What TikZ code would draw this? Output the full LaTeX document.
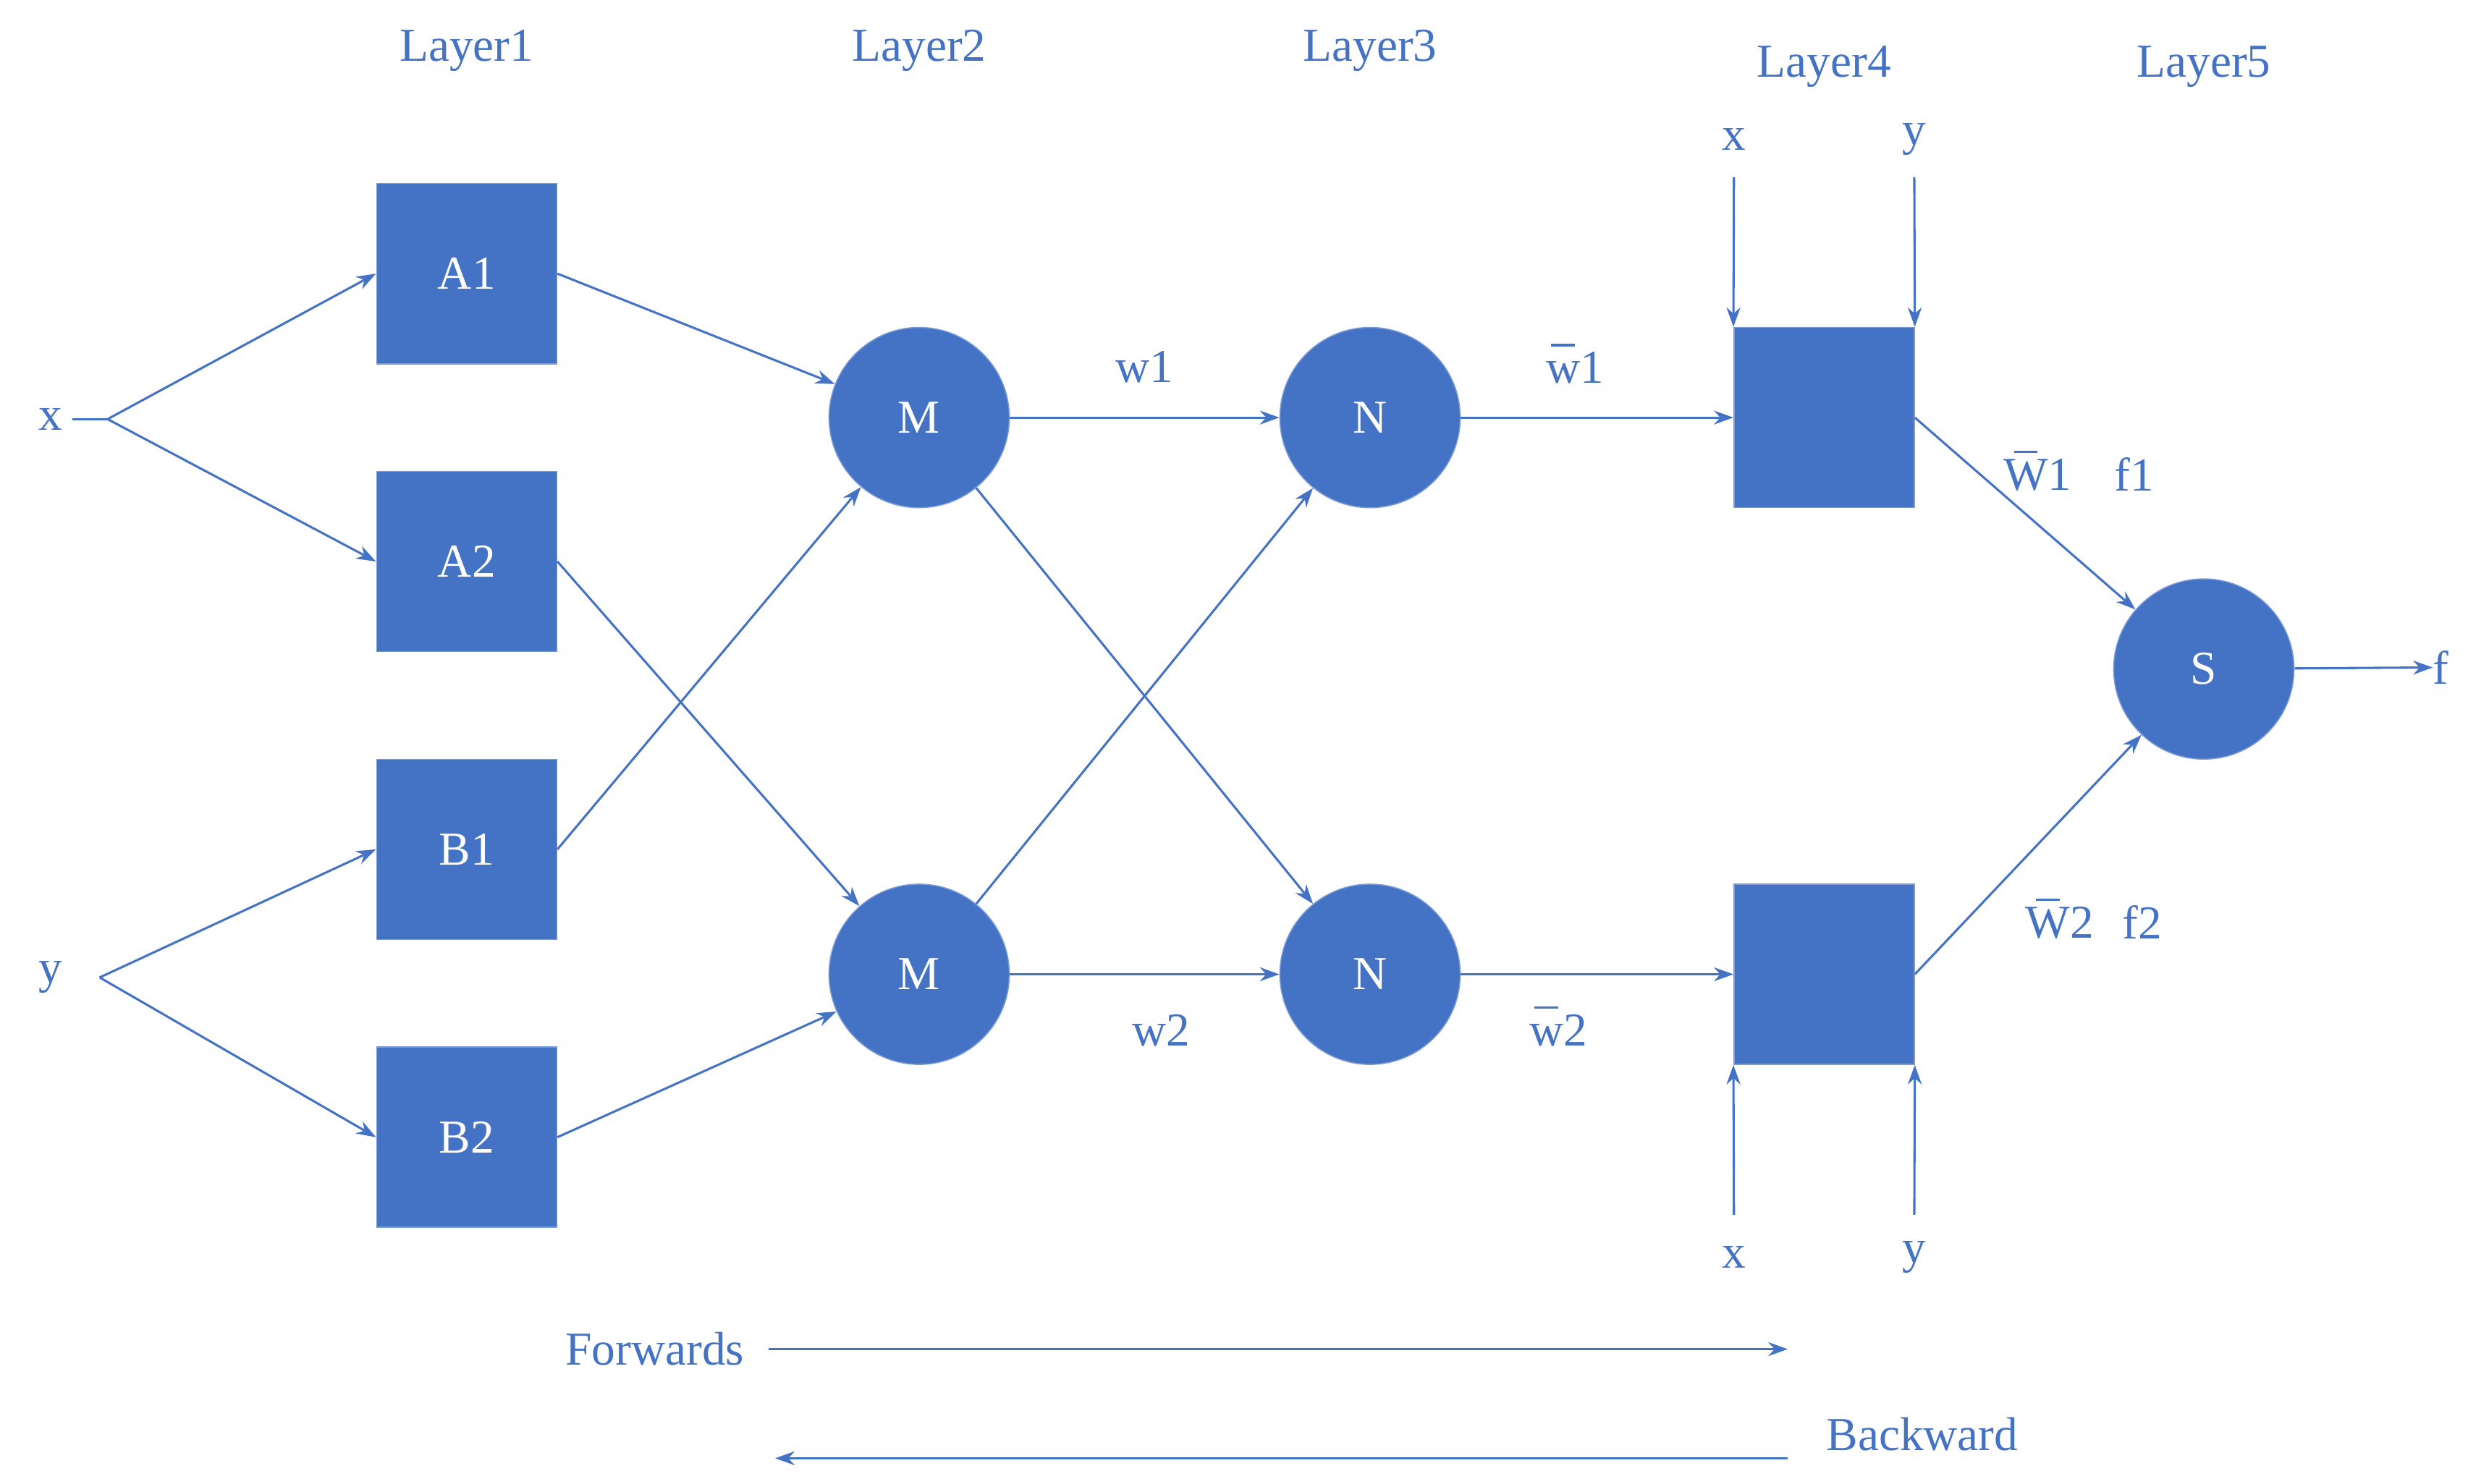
\documentclass[tikz,border=0pt]{standalone}
\usepackage{fontspec}
\setmainfont{Liberation Serif}
\usetikzlibrary{arrows.meta}
\definecolor{bl}{HTML}{4472C4}
\newcommand{\ob}[1]{\ooalign{#1\cr\hidewidth\raisebox{0.78em}{\rule{0.5em}{0.05em}}\hidewidth\cr}}
\begin{document}
\begin{tikzpicture}[x=0.02cm,y=-0.02cm,
 txt/.style={text=bl,font=\fontsize{17}{20}\selectfont,inner sep=0pt},
 sq/.style={fill=bl,draw=bl!70!white,minimum size=2.28cm,inner sep=0pt,text=white,font=\fontsize{17}{20}\selectfont},
 ci/.style={circle,fill=bl,draw=bl!70!white,minimum size=2.28cm,inner sep=0pt,text=white,font=\fontsize{17}{20}\selectfont},
 ar/.style={draw=bl,line width=0.8pt,-{Stealth[length=7pt,width=5pt]}},
 ln/.style={draw=bl,line width=0.8pt}]
\useasboundingbox (0,0) rectangle (1560,938);
\node[txt] (l1) at (295,32) {Layer1};
\node[txt] (l2) at (581,32) {Layer2};
\node[txt] (l3) at (866,32) {Layer3};
\node[txt] (l4) at (1153,42) {Layer4};
\node[txt] (l5) at (1393,42) {Layer5};
\node[sq] (A1) at (295,173) {A1};
\node[sq] (A2) at (295,355) {A2};
\node[sq] (B1) at (295,537) {B1};
\node[sq] (B2) at (295,719) {B2};
\node[ci] (M1) at (581,264) {M};
\node[ci] (M2) at (581,616) {M};
\node[ci] (N1) at (866,264) {N};
\node[ci] (N2) at (866,616) {N};
\node[sq] (P1) at (1153,264) {};
\node[sq] (P2) at (1153,616) {};
\node[ci] (S) at (1393,423) {S};
\node[txt] (x) at (32,265) {x};
\node[txt] (y) at (32,618) {y};
\coordinate (xb) at (68,265);
\coordinate (yb) at (63,618);
\draw[ar] (xb) -- (A1.west);
\draw[ar] (xb) -- (A2.west);
\draw[ln] (x.east)++(6,0) -- (xb);
\draw[ar] (yb) -- (B1.west);
\draw[ar] (yb) -- (B2.west);
\draw[ar] (A1.east) -- (M1);
\draw[ar] (B1.east) -- (M1);
\draw[ar] (A2.east) -- (M2);
\draw[ar] (B2.east) -- (M2);
\draw[ar] (M1) -- (N1) node[midway,above=12pt,txt]{w1};
\draw[ar] (M2) -- (N2) node[midway,below=14pt,txt,xshift=6pt]{w2};
\draw[ar] (M1) -- (N2);
\draw[ar] (M2) -- (N1);
\draw[ar] (N1) -- (P1) node[midway,above=12pt,txt,xshift=-8pt]{\ob{w}1};
\draw[ar] (N2) -- (P2) node[midway,below=14pt,txt,xshift=-14pt]{\ob{w}2};
\node[txt] (tx1) at (1096,88) {x};
\node[txt] (ty1) at (1210,88) {y};
\node[txt] (bx1) at (1096,795) {x};
\node[txt] (by1) at (1210,795) {y};
\coordinate (a1) at (1096,112); \coordinate (a2) at (1210,112);
\coordinate (b1) at (1096,768); \coordinate (b2) at (1210,768);
\draw[ar] (a1) -- (P1.north west);
\draw[ar] (a2) -- (P1.north east);
\draw[ar] (b1) -- (P2.south west);
\draw[ar] (b2) -- (P2.south east);
\draw[ar] (P1.east) -- (S);
\draw[ar] (P2.east) -- (S);
\node[txt] at (1288,300) {\ob{W}1};
\node[txt] at (1349,300) {f1};
\node[txt] at (1302,583) {\ob{W}2};
\node[txt] at (1354,583) {f2};
\node[txt] (f) at (1543,422) {f};
\draw[ar] (S) -- (f.west);
\node[txt] (fw) at (414,853) {Forwards};
\node[txt] (bw) at (1215,907) {Backward};
\coordinate (fe) at (1130,853);
\coordinate (bs) at (1130,922); \coordinate (be) at (490,922);
\draw[ar] (fw.east)++(15,0) -- (fe);
\draw[ar] (bs) -- (be);
\end{tikzpicture}
\end{document}
